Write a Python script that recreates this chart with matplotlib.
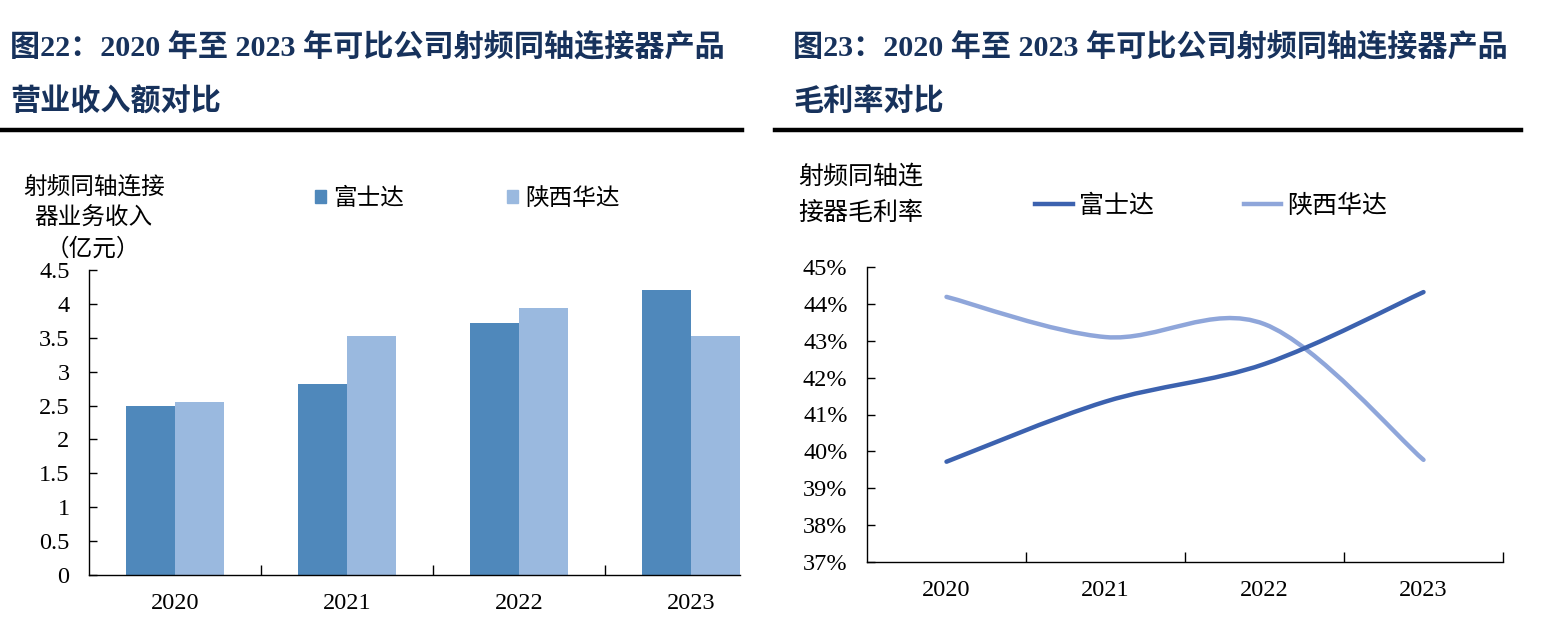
import numpy as np
import matplotlib
matplotlib.use('Agg')
import matplotlib.pyplot as plt
from matplotlib.path import Path
from matplotlib.patches import PathPatch, Patch
from matplotlib.lines import Line2D
from matplotlib.ticker import FuncFormatter

plt.rcParams['font.family'] = ['Liberation Serif', 'Noto Sans CJK SC', 'DejaVu Sans']

# data
years = ['2020', '2021', '2022', '2023']
companies = ['富士达', '陕西华达']
revenue_fsd = [2.49, 2.82, 3.72, 4.20]      # 亿元
revenue_sxhd = [2.55, 3.52, 3.94, 3.53]
margin_fsd = [39.72, 41.35, 42.37, 44.32]   # %
margin_sxhd = [44.19, 43.10, 43.45, 39.77]

W, H = 1549, 640
fig = plt.figure(figsize=(W / 100, H / 100), dpi=100)

title_color = '#17325C'
bar_dark = '#4F88BB'
bar_light = '#9AB9DF'
line_dark = '#3C62AF'
line_light = '#8FA6DA'


def px(x, y):
    # pixel position (from top-left) -> figure fraction
    return x / W, 1 - y / H


def axes_px(left, top, right, bottom):
    return fig.add_axes([left / W, (H - bottom) / H, (right - left) / W, (bottom - top) / H])


# ---------- titles and rules ----------
tsize = 21.7
fig.text(*px(10, 47), '图22：2020 年至 2023 年可比公司射频同轴连接器产品', fontsize=tsize,
         fontweight='bold', color=title_color, va='center', ha='left')
fig.text(*px(10, 102), '营业收入额对比', fontsize=tsize, fontweight='bold', color=title_color,
         va='center', ha='left')
fig.text(*px(793, 47), '图23：2020 年至 2023 年可比公司射频同轴连接器产品', fontsize=tsize,
         fontweight='bold', color=title_color, va='center', ha='left')
fig.text(*px(793, 102), '毛利率对比', fontsize=tsize, fontweight='bold', color=title_color,
         va='center', ha='left')
fig.add_artist(Line2D([0 / W, 742 / W], [1 - 130 / H] * 2, color='black', lw=3.2))
fig.add_artist(Line2D([775 / W, 1521 / W], [1 - 130 / H] * 2, color='black', lw=3.2))


def style_axes(ax, bounds):
    for s in ['top', 'right']:
        ax.spines[s].set_visible(False)
    for s in ['left', 'bottom']:
        ax.spines[s].set_linewidth(1.0)
    ax.set_xticks(bounds)
    ax.set_xticklabels([])
    ax.set_xticks(range(len(years)), minor=True)
    ax.set_xticklabels(years, minor=True, fontsize=17.5)
    ax.tick_params(axis='x', which='major', direction='in', length=7, width=1)
    ax.tick_params(axis='x', which='minor', length=0, pad=13)
    ax.tick_params(axis='y', direction='in', length=6, width=1, labelsize=17.5, pad=14)


# ---------- left: revenue bars ----------
ax1 = axes_px(89, 270, 740, 575)
x = np.arange(len(years))
bw = 0.285
ax1.bar(x - bw / 2, revenue_fsd, bw, color=bar_dark)
ax1.bar(x + bw / 2, revenue_sxhd, bw, color=bar_light)
ax1.set_xlim(-0.5, 3 + bw)
ax1.set_ylim(0, 4.5)
ax1.set_yticks(np.arange(0, 4.51, 0.5))
ax1.yaxis.set_major_formatter(FuncFormatter(lambda v, p: f'{v:g}'))
style_axes(ax1, [0.5, 1.5, 2.5])

fig.text(*px(94, 187), '射频同轴连接', fontsize=17, ha='center', va='center')
fig.text(*px(93, 219), '器业务收入', fontsize=17, ha='center', va='center')
fig.text(*px(93, 249), '（亿元）', fontsize=17, ha='center', va='center')

ax1.legend([Patch(color=bar_dark), Patch(color=bar_light)], companies,
           loc='center left', bbox_to_anchor=px(315, 199), bbox_transform=fig.transFigure,
           ncol=2, frameon=False, fontsize=17, borderpad=0, borderaxespad=0,
           handlelength=0.45, handleheight=0.45, handletextpad=0.3, columnspacing=4.4)


# ---------- right: gross margin lines ----------
def smooth_path(xs, ys):
    # Catmull-Rom style bezier through the data points (like Excel smoothed lines)
    pts = np.column_stack([xs, ys]).astype(float)
    n = len(pts)
    verts = [pts[0]]
    codes = [Path.MOVETO]
    for i in range(n - 1):
        p0, p1 = pts[i], pts[i + 1]
        prev = pts[i - 1] if i > 0 else p0
        nxt = pts[i + 2] if i + 2 < n else p1
        verts += [p0 + (p1 - prev) / 6, p1 - (nxt - p0) / 6, p1]
        codes += [Path.CURVE4] * 3
    return Path(verts, codes)


ax2 = axes_px(867, 267, 1503, 562)
for vals, col in [(margin_sxhd, line_light), (margin_fsd, line_dark)]:
    ax2.add_patch(PathPatch(smooth_path(x, vals), facecolor='none', edgecolor=col,
                            lw=3.2, capstyle='round'))
ax2.set_xlim(-0.5, 3.5)
ax2.set_ylim(37, 45)
ax2.set_yticks(range(37, 46))
ax2.yaxis.set_major_formatter(FuncFormatter(lambda v, p: f'{v:.0f}%'))
style_axes(ax2, [0.5, 1.5, 2.5, 3.5])

fig.text(*px(798, 177), '射频同轴连', fontsize=18, ha='left', va='center')
fig.text(*px(798, 213), '接器毛利率', fontsize=18, ha='left', va='center')

ax2.legend([Line2D([], [], color=line_dark, lw=3.2), Line2D([], [], color=line_light, lw=3.2)],
           companies, loc='center left', bbox_to_anchor=px(1035, 206),
           bbox_transform=fig.transFigure, ncol=2, frameon=False, fontsize=18,
           borderpad=0, borderaxespad=0, handlelength=1.5, handletextpad=0.25,
           columnspacing=3.6)

fig.savefig('out.png', dpi=100)
